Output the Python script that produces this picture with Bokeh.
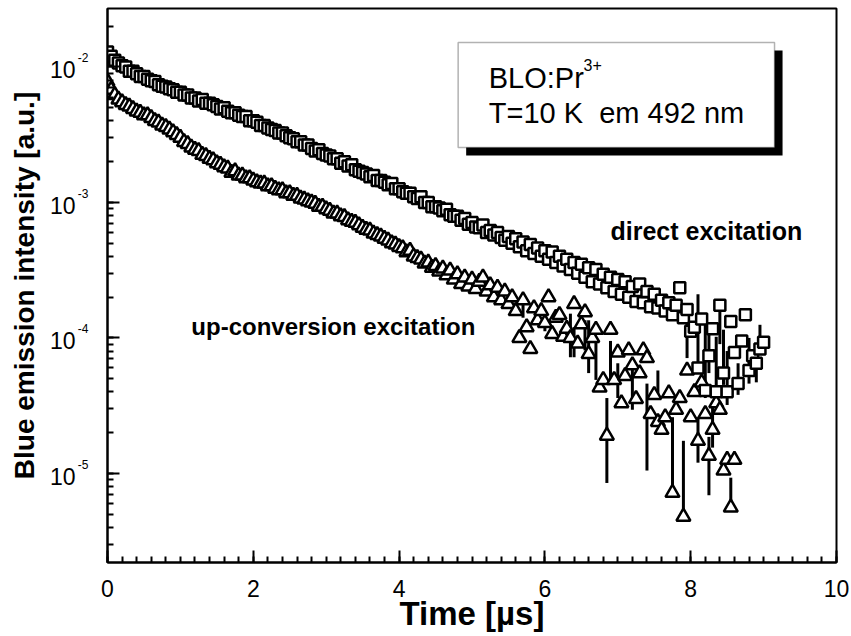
from bokeh.plotting import figure
from bokeh.models import (Range1d, SingleIntervalTicker, LogTicker, CustomJSTickFormatter,
                          Label, BoxAnnotation, LogAxis, LogScale)
from bokeh.embed import file_html
from bokeh.resources import INLINE
import math

# ---------------- data ----------------
time_us = [
    0.00, 0.05, 0.10, 0.15, 0.20, 0.25, 0.30, 0.35, 0.40, 0.45,
    0.50, 0.55, 0.60, 0.65, 0.70, 0.75, 0.80, 0.85, 0.90, 0.95,
    1.00, 1.05, 1.10, 1.15, 1.20, 1.25, 1.30, 1.35, 1.40, 1.45,
    1.50, 1.55, 1.60, 1.65, 1.70, 1.75, 1.80, 1.85, 1.90, 1.95,
    2.00, 2.05, 2.10, 2.15, 2.20, 2.25, 2.30, 2.35, 2.40, 2.45,
    2.50, 2.55, 2.60, 2.65, 2.70, 2.75, 2.80, 2.85, 2.90, 2.95,
    3.00, 3.05, 3.10, 3.15, 3.20, 3.25, 3.30, 3.35, 3.40, 3.45,
    3.50, 3.55, 3.60, 3.65, 3.70, 3.75, 3.80, 3.85, 3.90, 3.95,
    4.00, 4.05, 4.10, 4.15, 4.20, 4.25, 4.30, 4.35, 4.40, 4.45,
    4.50, 4.55, 4.60, 4.65, 4.70, 4.75, 4.80, 4.85, 4.90, 4.95,
    5.00, 5.05, 5.10, 5.15, 5.20, 5.25, 5.30, 5.35, 5.40, 5.45,
    5.50, 5.55, 5.60, 5.65, 5.70, 5.75, 5.80, 5.85, 5.90, 5.95,
    6.00, 6.05, 6.10, 6.15, 6.20, 6.25, 6.30, 6.35, 6.40, 6.45,
    6.50, 6.55, 6.60, 6.65, 6.70, 6.75, 6.80, 6.85, 6.90, 6.95,
    7.00, 7.05, 7.10, 7.15, 7.20, 7.25, 7.30, 7.35, 7.40, 7.45,
    7.50, 7.55, 7.60, 7.65, 7.70, 7.75, 7.80, 7.85, 7.90, 7.95,
    8.00, 8.05, 8.10, 8.15, 8.20, 8.25, 8.30, 8.35, 8.40, 8.45,
    8.50, 8.55, 8.60, 8.65, 8.70, 8.75, 8.80, 8.85, 8.90, 8.95,
    9.00,
]

direct_intensity = [
    1.29e-2, 1.20e-2, 1.12e-2, 1.07e-2, 1.02e-2, 1.00e-2, 9.3e-3, 9.3e-3, 8.9e-3, 8.5e-3,
    8.5e-3, 8.1e-3, 7.9e-3, 7.8e-3, 7.4e-3, 7.2e-3, 7.1e-3, 6.9e-3, 6.8e-3, 6.5e-3,
    6.5e-3, 6.2e-3, 6.2e-3, 5.9e-3, 5.9e-3, 5.6e-3, 5.75e-3, 5.4e-3, 5.4e-3, 5.25e-3,
    5.1e-3, 4.9e-3, 5.0e-3, 4.7e-3, 4.6e-3, 4.6e-3, 4.4e-3, 4.3e-3, 4.3e-3, 4.0e-3,
    4.0e-3, 3.9e-3, 3.7e-3, 3.7e-3, 3.55e-3, 3.45e-3, 3.4e-3, 3.25e-3, 3.25e-3, 3.1e-3,
    3.0e-3, 2.95e-3, 2.8e-3, 2.8e-3, 2.65e-3, 2.65e-3, 2.5e-3, 2.4e-3, 2.45e-3, 2.3e-3,
    2.24e-3, 2.2e-3, 2.1e-3, 2.1e-3, 1.95e-3, 2.0e-3, 1.86e-3, 1.9e-3, 1.74e-3, 1.7e-3,
    1.66e-3, 1.62e-3, 1.55e-3, 1.58e-3, 1.45e-3, 1.45e-3, 1.41e-3, 1.35e-3, 1.38e-3, 1.26e-3,
    1.26e-3, 1.2e-3, 1.17e-3, 1.17e-3, 1.1e-3, 1.07e-3, 1.1e-3, 1.0e-3, 1.0e-3, 9.3e-4,
    9.3e-4, 9.1e-4, 8.7e-4, 8.9e-4, 8.1e-4, 7.9e-4, 7.9e-4, 7.4e-4, 7.6e-4, 6.9e-4,
    7.1e-4, 6.6e-4, 6.5e-4, 6.8e-4, 6.0e-4, 6.2e-4, 5.75e-4, 6.0e-4, 5.5e-4, 5.25e-4,
    5.6e-4, 5.0e-4, 5.4e-4, 4.7e-4, 5.1e-4, 4.4e-4, 4.9e-4, 4.2e-4, 4.6e-4, 4.0e-4,
    4.4e-4, 3.8e-4, 4.3e-4, 3.6e-4, 4.0e-4, 3.4e-4, 3.8e-4, 3.2e-4, 3.6e-4, 3.0e-4,
    3.5e-4, 2.8e-4, 3.3e-4, 2.6e-4, 3.2e-4, 2.5e-4, 2.95e-4, 2.35e-4, 2.8e-4, 2.2e-4,
    2.7e-4, 2.1e-4, 2.6e-4, 2.0e-4, 2.4e-4, 1.86e-4, 2.5e-4, 1.82e-4, 2.2e-4, 1.7e-4,
    2.1e-4, 1.66e-4, 1.9e-4, 1.58e-4, 1.82e-4, 1.48e-4, 1.74e-4, 2.35e-4, 1.41e-4, 1.62e-4,
    1.12e-4, 1.20e-4, 6.0e-5, 1.38e-4, 4.1e-5, 7.4e-5, 1.17e-4, 4.0e-5, 1.74e-4, 5.5e-5,
    4.0e-5, 1.32e-4, 7.8e-5, 4.6e-5, 9.5e-5, 1.48e-4, 5.75e-5, 7.4e-5, 6.5e-5, 8.3e-5,
    9.3e-5,
]

upconv_intensity = [
    7.8e-3, 6.8e-3, 6.2e-3, 5.75e-3, 5.5e-3, 5.25e-3, 5.1e-3, 4.9e-3, 4.7e-3, 4.6e-3,
    4.4e-3, 4.4e-3, 4.2e-3, 4.0e-3, 3.9e-3, 3.7e-3, 3.6e-3, 3.45e-3, 3.3e-3, 3.15e-3,
    3.0e-3, 2.8e-3, 2.7e-3, 2.55e-3, 2.45e-3, 2.4e-3, 2.25e-3, 2.2e-3, 2.1e-3, 2.05e-3,
    1.95e-3, 1.9e-3, 1.82e-3, 1.78e-3, 1.66e-3, 1.7e-3, 1.58e-3, 1.58e-3, 1.51e-3, 1.51e-3,
    1.45e-3, 1.41e-3, 1.38e-3, 1.38e-3, 1.32e-3, 1.32e-3, 1.26e-3, 1.23e-3, 1.23e-3, 1.17e-3,
    1.17e-3, 1.12e-3, 1.12e-3, 1.07e-3, 1.05e-3, 1.02e-3, 1.0e-3, 9.8e-4, 9.3e-4, 9.3e-4,
    8.9e-4, 8.7e-4, 8.3e-4, 8.3e-4, 7.9e-4, 7.8e-4, 7.4e-4, 7.2e-4, 7.1e-4, 6.8e-4,
    6.5e-4, 6.3e-4, 6.2e-4, 5.9e-4, 5.75e-4, 5.6e-4, 5.4e-4, 5.25e-4, 5.0e-4, 4.9e-4,
    4.7e-4, 4.6e-4, 4.3e-4, 4.4e-4, 4.0e-4, 3.9e-4, 3.8e-4, 3.55e-4, 3.6e-4, 3.3e-4,
    3.4e-4, 3.1e-4, 3.25e-4, 2.9e-4, 3.15e-4, 2.7e-4, 2.95e-4, 2.5e-4, 2.8e-4, 2.4e-4,
    2.7e-4, 2.3e-4, 2.6e-4, 2.8e-4, 2.2e-4, 2.45e-4, 2.0e-4, 2.35e-4, 1.9e-4, 2.2e-4,
    1.78e-4, 2.0e-4, 1.58e-4, 1.0e-4, 1.9e-4, 1.2e-4, 8.3e-5, 1.66e-4, 1.35e-4, 1.58e-4,
    1.29e-4, 2.0e-4, 1.07e-4, 1.41e-4, 1.48e-4, 1.02e-4, 1.17e-4, 1.0e-4, 1.78e-4, 9.1e-5,
    1.26e-4, 1.55e-4, 7.6e-5, 1.0e-4, 1.15e-4, 4.3e-5, 4.9e-5, 1.9e-5, 1.15e-4, 4.9e-5,
    7.8e-5, 3.3e-5, 5.25e-5, 8.1e-5, 6.3e-5, 3.55e-5, 5.5e-5, 8.1e-5, 7.1e-5, 2.75e-5,
    3.8e-5, 2.4e-5, 2.1e-5, 2.6e-5, 3.9e-5, 7.2e-6, 2.95e-5, 3.6e-5, 4.8e-6, 5.75e-5,
    2.6e-5, 4.0e-5, 1.74e-5, 4.7e-5, 2.75e-5, 1.35e-5, 2.1e-5, 3.3e-5, 2.95e-5, 1.05e-5,
    1.26e-5, 5.6e-6, 1.26e-5,
]
upconv_time = time_us[:len(upconv_intensity)]

direct_bar_time = [7.95, 8.10, 8.20, 8.25, 8.35, 8.40, 8.45, 8.50, 8.65, 8.80, 8.90, 8.95]
direct_bar_low = [7.1e-5, 5.5e-5, 3.6e-5, 5.5e-5, 3.4e-5, 9.0e-5, 4.5e-5, 3.2e-5, 3.8e-5, 4.6e-5, 4.7e-5, 8.0e-5]
direct_bar_high = [1.35e-4, 2.1e-4, 1.3e-4, 1.15e-4, 1.02e-4, 1.6e-4, 1.15e-4, 8.0e-5, 6.5e-5, 1.0e-4, 6.5e-5, 1.25e-4]

upconv_bar_time = [5.70, 6.00, 6.35, 6.40, 6.55, 6.60, 6.70, 6.85, 6.90, 7.00,
                   7.20, 7.40, 7.55, 7.75, 7.90, 8.10, 8.25, 8.30, 8.55]
upconv_bar_low = [1.41e-4, 1.12e-4, 7.2e-5, 7.2e-5, 8.1e-5, 5.5e-5, 4.9e-5, 8.5e-6, 4.9e-5, 3.6e-5,
                  2.95e-5, 1.05e-5, 3.6e-5, 7.8e-6, 4.8e-6, 1.2e-5, 6.9e-6, 1.55e-5, 6.0e-6]
upconv_bar_high = [1.78e-4, 1.41e-4, 1.51e-4, 1.2e-4, 1.35e-4, 1.35e-4, 1.0e-4, 3.6e-5, 9.5e-5, 6.5e-5,
                   6.0e-5, 4.6e-5, 5.75e-5, 2.6e-5, 1.74e-5, 2.6e-5, 1.86e-5, 3.1e-5, 9.3e-6]

FONT = "Liberation Sans"

# ---------------- layout constants ----------------
Y_LO, Y_HI = 2.2e-6, 2.7e-2
FRAME_H = 554
PX_PER_DECADE = FRAME_H / (math.log10(Y_HI) - math.log10(Y_LO))
EXP_UP_PX = 9      # exponent raised above tick
TEN_DOWN_PX = 3    # "10" lowered below tick
exp_f = 10 ** (EXP_UP_PX / PX_PER_DECADE)
ten_f = 10 ** (-TEN_DOWN_PX / PX_PER_DECADE)

# ---------------- figure ----------------
p = figure(frame_width=729, frame_height=FRAME_H, y_axis_type="log",
           x_range=Range1d(0, 10), y_range=Range1d(Y_LO, Y_HI),
           output_backend="svg", toolbar_location=None,
           min_border_left=107, min_border_right=15, min_border_top=8, min_border_bottom=72)
p.xgrid.visible = False
p.ygrid.visible = False
p.outline_line_color = "black"
p.outline_line_width = 2
p.background_fill_color = "white"
p.border_fill_color = "white"

main_x = p.xaxis[0]
main_y = p.yaxis[0]

main_x.ticker = SingleIntervalTicker(interval=2, num_minor_ticks=10)
main_y.ticker = LogTicker(num_minor_ticks=10)
main_y.formatter = CustomJSTickFormatter(code="return ''")

for ax in (main_x, main_y):
    ax.axis_line_width = 2
    ax.axis_line_color = "black"
    ax.major_tick_line_width = 2
    ax.minor_tick_line_width = 2
    ax.major_tick_line_color = "black"
    ax.minor_tick_line_color = "black"
    ax.major_tick_in = 12
    ax.major_tick_out = 0
    ax.minor_tick_in = 6
    ax.minor_tick_out = 0
    ax.major_label_text_font = FONT
    ax.major_label_text_color = "black"

main_x.major_label_text_font_size = "23px"
main_x.major_label_standoff = 17
main_x.axis_label = "Time [\u00b5s]"
main_x.axis_label_text_font = FONT
main_x.axis_label_text_font_style = "bold"
main_x.axis_label_text_font_size = "33px"
main_x.axis_label_text_color = "black"
main_x.axis_label_standoff = -5

main_y.major_label_standoff = 0

# y tick labels: exponent (raised) and base "10" (outer), drawn by two extra label-only axes
p.extra_y_ranges = {"exp_lab": Range1d(Y_LO / exp_f, Y_HI / exp_f),
                    "ten_lab": Range1d(Y_LO / ten_f, Y_HI / ten_f)}
p.extra_y_scales = {"exp_lab": LogScale(), "ten_lab": LogScale()}

def label_axis(range_name, code, size, standoff):
    ax = LogAxis(y_range_name=range_name, ticker=LogTicker(num_minor_ticks=0),
                 formatter=CustomJSTickFormatter(code=code))
    ax.axis_line_color = None
    ax.major_tick_line_color = None
    ax.minor_tick_line_color = None
    ax.major_tick_in = 0
    ax.major_tick_out = 0
    ax.minor_tick_in = 0
    ax.minor_tick_out = 0
    ax.major_label_text_font = FONT
    ax.major_label_text_font_size = size
    ax.major_label_text_color = "black"
    ax.major_label_standoff = standoff
    return ax

exp_axis = label_axis("exp_lab", "return String(Math.round(Math.log10(tick)));", "12px", 19)
ten_axis = label_axis("ten_lab", "return '10';", "23px", -1)
ten_axis.axis_label = "Blue emission intensity [a.u.]"
ten_axis.axis_label_text_font = FONT
ten_axis.axis_label_text_font_style = "bold"
ten_axis.axis_label_text_font_size = "28px"
ten_axis.axis_label_text_color = "black"
ten_axis.axis_label_standoff = 7
p.add_layout(exp_axis, "left")
p.add_layout(ten_axis, "left")

# error bars
p.segment(x0=upconv_bar_time, y0=upconv_bar_low, x1=upconv_bar_time, y1=upconv_bar_high,
          line_color="black", line_width=3)
p.segment(x0=direct_bar_time, y0=direct_bar_low, x1=direct_bar_time, y1=direct_bar_high,
          line_color="black", line_width=3)

# data
p.scatter(upconv_time, upconv_intensity, marker="triangle", size=14,
          fill_color="white", line_color="black", line_width=2.5)
p.scatter(time_us, direct_intensity, marker="square", size=11,
          fill_color="white", line_color="black", line_width=2.5)

# curve labels
p.add_layout(Label(x=6.90, y=6.16e-4, text="direct excitation", text_font=FONT,
                   text_baseline="alphabetic",
                   text_font_size="25px", text_font_style="bold", text_color="black"))
p.add_layout(Label(x=1.15, y=1.216e-4, text="up-conversion excitation", text_font=FONT,
                   text_baseline="alphabetic",
                   text_font_size="24px", text_font_style="bold", text_color="black"))

# info box with shadow
p.add_layout(BoxAnnotation(left=4.92, right=9.26, top=1.324e-2, bottom=2.22e-3,
                           fill_color="black", fill_alpha=1.0, line_color=None))
p.add_layout(BoxAnnotation(left=4.81, right=9.15, top=1.517e-2, bottom=2.546e-3,
                           fill_color="white", fill_alpha=1.0, line_color="black", line_width=1.5))
p.add_layout(Label(x=5.23, y=8.22e-3, text="BLO:Pr", text_font=FONT, text_baseline="alphabetic",
                   text_font_size="29px", text_color="black"))
p.add_layout(Label(x=6.53, y=1.036e-2, text="3+", text_font=FONT, text_baseline="alphabetic",
                   text_font_size="16px", text_color="black"))
p.add_layout(Label(x=5.23, y=4.54e-3, text="T=10 K\u00a0 em 492 nm", text_font=FONT,
                   text_baseline="alphabetic",
                   text_font_size="29px", text_color="black"))

open("out.html", "w").write(file_html(p, INLINE))
